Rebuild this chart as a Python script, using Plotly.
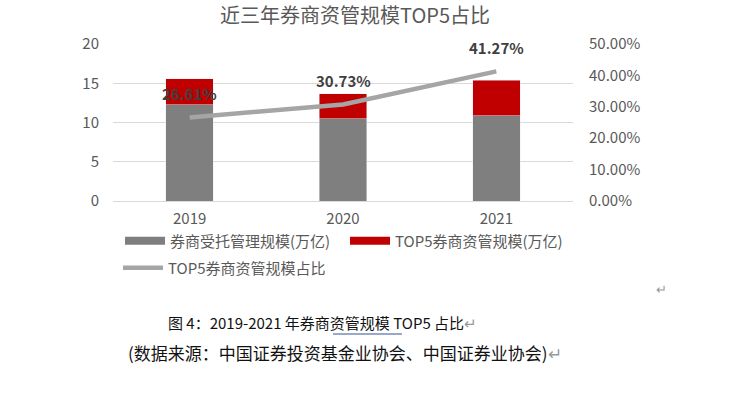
import plotly.graph_objects as go

years = ["2019", "2020", "2021"]
entrusted = [12.28, 10.45, 10.85]      # 券商受托管理规模(万亿)
top5 = [3.27, 3.21, 4.52]              # TOP5券商资管规模(万亿)
ratio = [26.61, 30.73, 41.27]          # TOP5券商资管规模占比 (%)
ratio_labels = ["26.61%", "30.73%", "41.27%"]
left_ticks = [0, 5, 10, 15, 20]
right_ticks = [0, 10, 20, 30, 40, 50]
right_tick_labels = ["0.00%", "10.00%", "20.00%", "30.00%", "40.00%", "50.00%"]

FONT = "Noto Sans CJK SC, Noto Sans, sans-serif"
TICK = "#595959"
GRAY, RED, LINE = "#7F7F7F", "#C00000", "#A5A5A5"

W, H = 732, 399
L, R, T, B = 113, 159, 44, 198
PW, PH = W - L - R, H - T - B


def px(x):
    return (x - L) / PW


def py(y):
    return (H - B - y) / PH


fig = go.Figure()
fig.add_trace(go.Bar(x=years, y=entrusted, name="券商受托管理规模(万亿)",
                     marker_color=GRAY, yaxis="y", showlegend=False))
fig.add_trace(go.Bar(x=years, y=top5, name="TOP5券商资管规模(万亿)",
                     marker_color=RED, yaxis="y", showlegend=False))
fig.add_trace(go.Scatter(x=years, y=ratio, name="TOP5券商资管规模占比",
                         mode="lines", line=dict(color=LINE, width=4.5),
                         yaxis="y2", showlegend=False))
# legend keys (wide rectangles like the original)
fig.add_trace(go.Scatter(x=[None], y=[None], name="券商受托管理规模(万亿)", mode="lines",
                         line=dict(color=GRAY, width=8), yaxis="y", legend="legend"))
fig.add_trace(go.Scatter(x=[None], y=[None], name="TOP5券商资管规模(万亿)", mode="lines",
                         line=dict(color=RED, width=8), yaxis="y", legend="legend2"))
fig.add_trace(go.Scatter(x=[None], y=[None], name="TOP5券商资管规模占比", mode="lines",
                         line=dict(color=LINE, width=4.5), yaxis="y", legend="legend3"))

for i, (r, lab) in enumerate(zip(ratio, ratio_labels)):
    fig.add_annotation(x=i, y=r, xref="x", yref="y2", text="<b>" + lab + "</b>",
                       showarrow=False, yshift=24,
                       font=dict(family=FONT, size=15, color="#404040"))

leg_common = dict(orientation="h", xanchor="left", yanchor="middle",
                  font=dict(family=FONT, size=15, color=TICK), itemwidth=40,
                  bgcolor="rgba(0,0,0,0)")

fig.update_layout(
    width=W, height=H,
    margin=dict(l=L, r=R, t=T, b=B),
    paper_bgcolor="white", plot_bgcolor="white",
    barmode="stack", bargap=0.69,
    font=dict(family=FONT, color=TICK, size=15),
    title=dict(text="近三年券商资管规模TOP5占比", x=355 / W, xanchor="center",
               y=1 - 16 / H, yanchor="middle",
               font=dict(family=FONT, size=20, color="#595959")),
    xaxis=dict(type="category", range=[-0.5, 2.5], showgrid=False, showline=True,
               linecolor="#D9D9D9", ticks="", tickfont=dict(size=15, color=TICK),
               ticklabelstandoff=4),
    yaxis=dict(range=[0, 20], tickvals=left_ticks, showgrid=True,
               gridcolor="#D9D9D9", zeroline=False, ticks="",
               tickfont=dict(size=15, color=TICK), ticklabelstandoff=13),
    yaxis2=dict(range=[0, 50], tickvals=right_ticks, ticktext=right_tick_labels,
                overlaying="y", side="right", showgrid=False, zeroline=False,
                ticks="", tickfont=dict(size=15, color=TICK), ticklabelstandoff=15),
    legend=dict(x=px(120), y=py(241), **leg_common),
    legend2=dict(x=px(345), y=py(241), **leg_common),
    legend3=dict(x=px(118), y=py(268), **leg_common),
    showlegend=True,
)

fig.add_annotation(xref="paper", yref="paper", x=px(322), y=py(322),
                   text="图 4：2019-2021 年券商资管规模 TOP5 占比<span style='color:#999999'>↵</span>",
                   showarrow=False, xanchor="center", yanchor="middle",
                   font=dict(family=FONT, size=15, color="#111111"))
fig.add_annotation(xref="paper", yref="paper", x=px(345), y=py(352),
                   text="(数据来源：中国证券投资基金业协会、中国证券业协会)<span style='color:#999999'>↵</span>",
                   showarrow=False, xanchor="center", yanchor="middle",
                   font=dict(family=FONT, size=17, color="#111111"))
fig.add_annotation(xref="paper", yref="paper", x=px(661), y=py(288),
                   text="↵", showarrow=False, xanchor="center", yanchor="middle",
                   font=dict(family=FONT, size=13, color="#999999"))
fig.add_shape(type="line", xref="paper", yref="paper", x0=px(333), x1=px(402),
              y0=py(334), y1=py(334), line=dict(color="#2F5597", width=1))

fig.write_html("out.html", config={"displayModeBar": False},
               post_script="document.body.style.margin='0';")
